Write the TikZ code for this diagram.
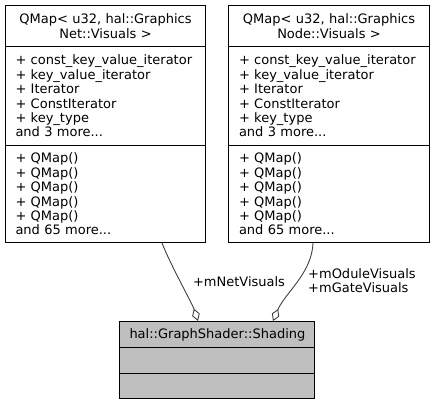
\documentclass[tikz,border=0pt]{standalone}
\usepackage{fontspec}
\setmainfont{DejaVu Sans}
\usetikzlibrary{arrows.meta}
\begin{document}
\begin{tikzpicture}[x=1pt,y=-1pt,
  comp/.style={draw=black, line width=1pt, rectangle, anchor=north west, minimum width=200pt,
    inner xsep=10pt, inner ysep=0pt, text width=180pt, font=\fontsize{13}{14.4}\selectfont},
  ctitle/.style={comp, align=center},
  clist/.style={comp, align=left},
  gcomp/.style={comp, fill=gray!50, minimum width=195pt, text width=175pt, align=center},
  lbl/.style={font=\fontsize{13}{14.4}\selectfont, inner sep=0pt, align=left},
  conn/.style={draw=black!75, line width=0.9pt, -{Diamond[open, length=13pt, width=8pt, line width=0.9pt]}}
]
\useasboundingbox (0,0) rectangle (435,404);
% left class
\node[ctitle, minimum height=41pt] (ltitle) at (5,5) {QMap< u32, hal::Graphics\\Net::Visuals >};
\node[clist, minimum height=99pt] (lattr) at (5,46) {+ const\_key\_value\_iterator\\+ key\_value\_iterator\\+ Iterator\\+ ConstIterator\\+ key\_type\\and 3 more...};
\node[clist, minimum height=97pt] (lmeth) at (5,145) {+ QMap()\\+ QMap()\\+ QMap()\\+ QMap()\\+ QMap()\\and 65 more...};
% right class
\node[ctitle, minimum height=41pt, minimum width=201pt] (rtitle) at (228,5) {QMap< u32, hal::Graphics\\Node::Visuals >};
\node[clist, minimum height=99pt, minimum width=201pt] (rattr) at (228,46) {+ const\_key\_value\_iterator\\+ key\_value\_iterator\\+ Iterator\\+ ConstIterator\\+ key\_type\\and 3 more...};
\node[clist, minimum height=97pt, minimum width=201pt] (rmeth) at (228,145) {+ QMap()\\+ QMap()\\+ QMap()\\+ QMap()\\+ QMap()\\and 65 more...};
% bottom class
\node[gcomp, minimum height=26pt] (btitle) at (119,321) {hal::GraphShader::Shading};
\node[gcomp, minimum height=26pt] (battr) at (119,347) {};
\node[gcomp, minimum height=25pt] (bmeth) at (119,373) {};
% connectors
\draw[conn] ([xshift=157pt]lmeth.south west) .. controls ([xshift=166pt,yshift=-23pt]lmeth.south west) and ([xshift=73pt,yshift=18pt]btitle.north west) .. ([xshift=79pt]btitle.north west);
\draw[conn] ([xshift=85pt]rmeth.south west) .. controls ([xshift=84pt,yshift=-30pt]rmeth.south west) and ([xshift=166pt,yshift=28pt]btitle.north west) .. ([xshift=154pt]btitle.north west);
% labels
\node[lbl] (lnet) at (239,282) {+mNetVisuals};
\node[lbl, anchor=west] (lmod) at (308,280.5) {+mOduleVisuals\\+mGateVisuals};
\end{tikzpicture}
\end{document}
